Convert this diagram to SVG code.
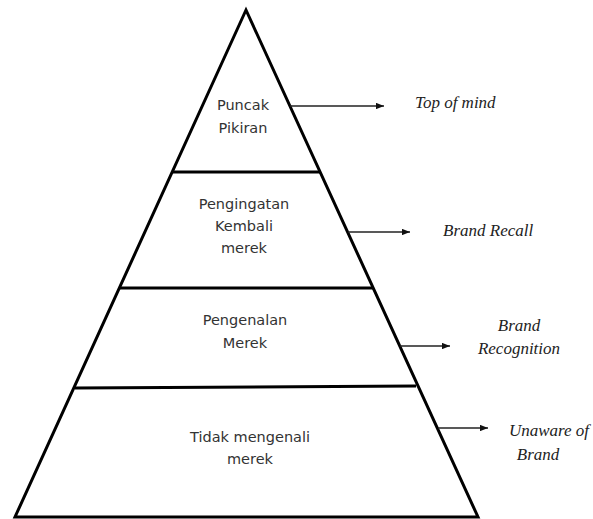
<svg xmlns="http://www.w3.org/2000/svg" width="593" height="519" viewBox="0 0 593 519">
<style>
.edge{fill:none;stroke:#000;stroke-width:3;stroke-linejoin:miter}
.tier{fill:none;stroke:#000;stroke-width:3}
.conn{stroke:#222;stroke-width:1.3;fill:none}
.lbl{font-family:"DejaVu Sans",Verdana,sans-serif;font-size:14.5px;fill:#333;text-anchor:middle}
.en{font-family:"Liberation Serif","Times New Roman",serif;font-style:italic;font-size:17px;fill:#222}
</style>
<defs>
<marker id="ah" viewBox="0 0 10 8" refX="10" refY="4" markerWidth="8" markerHeight="6.4" markerUnits="userSpaceOnUse" orient="auto">
<path d="M0,0 L10,4 L0,8 Z" fill="#111"/>
</marker>
</defs>
<rect width="593" height="519" fill="#fff"/>
<g id="pyramid">
<path class="edge" d="M246,10 L15,517 L478,517 Z"/>
</g>
<g id="tier-top">
<line class="tier" x1="172" y1="172" x2="320" y2="172"/>
<text class="lbl" x="243" y="110">Puncak</text>
<text class="lbl" x="243" y="133">Pikiran</text>
</g>
<g id="tier-recall">
<line class="tier" x1="119" y1="288" x2="373" y2="288"/>
<text class="lbl" x="244" y="209">Pengingatan</text>
<text class="lbl" x="244" y="231">Kembali</text>
<text class="lbl" x="244" y="253">merek</text>
</g>
<g id="tier-recognition">
<line class="tier" x1="75" y1="388" x2="416" y2="386"/>
<text class="lbl" x="245" y="325">Pengenalan</text>
<text class="lbl" x="245" y="348">Merek</text>
</g>
<g id="tier-unaware">
<text class="lbl" x="250" y="442">Tidak mengenali</text>
<text class="lbl" x="250" y="464">merek</text>
</g>
<g id="connectors">
<line class="conn" x1="290" y1="106" x2="384" y2="106" marker-end="url(#ah)"/>
<line class="conn" x1="348" y1="232" x2="410" y2="232" marker-end="url(#ah)"/>
<line class="conn" x1="400" y1="346" x2="450" y2="346" marker-end="url(#ah)"/>
<line class="conn" x1="438" y1="428" x2="488" y2="428" marker-end="url(#ah)"/>
</g>
<g id="label-top">
<text class="en" x="415" y="108">Top of mind</text>
</g>
<g id="label-recall">
<text class="en" x="443" y="236">Brand Recall</text>
</g>
<g id="label-recognition">
<text class="en" x="519" y="331" text-anchor="middle">Brand</text>
<text class="en" x="519" y="354" text-anchor="middle">Recognition</text>
</g>
<g id="label-unaware">
<text class="en" x="549" y="436" text-anchor="middle">Unaware of</text>
<text class="en" x="538" y="460" text-anchor="middle">Brand</text>
</g>
</svg>
